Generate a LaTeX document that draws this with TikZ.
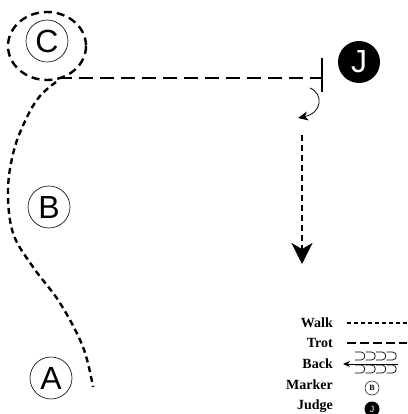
\documentclass[tikz,border=0pt]{standalone}
\usepackage{fontspec}
\setsansfont{Liberation Sans}
\setmainfont{Liberation Serif}
\usetikzlibrary{arrows.meta}
\begin{document}
\begin{tikzpicture}[x=1pt,y=-1pt,
  marker/.style={circle,draw,line width=0.6pt,minimum size=42pt,inner sep=0pt,font=\fontsize{32}{32}\selectfont\sffamily},
  judge/.style={circle,fill=black,text=white,minimum size=42pt,inner sep=0pt,font=\fontsize{32}{32}\selectfont\sffamily},
  walk/.style={line width=2.4pt,dash pattern=on 6pt off 4pt},
  trot/.style={line width=2.4pt,dash pattern=on 14pt off 7pt},
  legtext/.style={anchor=east,font=\fontsize{14}{14}\selectfont\bfseries\rmfamily,inner sep=0pt},
  legwalk/.style={line width=1.3pt,dash pattern=on 4pt off 3pt},
  legtrot/.style={line width=1.3pt,dash pattern=on 9pt off 4pt},
  loop/.style={line width=0.7pt},
]
\useasboundingbox (0,0) rectangle (407,414);

% markers
\node[marker] (C) at (47,41) {C};
\node[marker] (B) at (49,207) {B};
\node[marker] (A) at (51,378) {A};
\node[judge] (J) at (359,62) {J};

% circle around C
\draw[line width=2.4pt,dash pattern=on 8pt off 5pt] (47,46) ellipse [x radius=39,y radius=34];

% trot line to the halt bar
\coordinate (trotstart) at (58,78);
\coordinate (bar) at (322,78);
\coordinate (bartop) at (322,58);
\coordinate (barbot) at (322,92);
\draw[trot] (trotstart) -- (bar);
\draw[line width=1.5pt] (bartop) -- (barbot);

% turn arrow
\coordinate (turnstart) at (310,88);
\coordinate (turnend) at (298,118);
\draw[line width=0.8pt,-{Stealth[length=10pt,width=9pt,inset=3pt]}] (turnstart) .. controls (324,94) and (322,113) .. (turnend);

% walk down
\coordinate (walkdowntop) at (302,135);
\coordinate (walkdownend) at (302,264);
\draw[walk,-{Stealth[length=21pt,width=21pt,inset=6pt]}] (walkdowntop) -- (walkdownend);

% walk curve from C to A
\draw[walk] plot[smooth,tension=0.6] coordinates {(56,82) (40,96) (27,117) (14,150) (8,190) (13,233) (33,267) (60,303) (83,347) (93,387)};

% legend
\node[legtext] (lwalk) at (333,323) {Walk};
\node[legtext] (ltrot) at (333,343) {Trot};
\node[legtext] (lback) at (333,364) {Back};
\node[legtext] (lmarker) at (333,385) {Marker};
\node[legtext] (ljudge) at (333,406) {Judge};

\coordinate (lw1) at (347,323); \coordinate (lw2) at (407,323);
\draw[legwalk] (lw1) -- (lw2);
\coordinate (lt1) at (347,343); \coordinate (lt2) at (407,343);
\draw[legtrot] (lt1) -- (lt2);

\coordinate (lb1) at (398,364); \coordinate (lb2) at (343,364);
\draw[line width=0.8pt,-{Stealth[length=7pt,width=6pt]}] (lb1) -- (lb2);
\foreach \i in {0,1,2,3}{
  \pgfmathsetmacro{\xa}{355+10.5*\i}
  \pgfmathsetmacro{\xb}{361+10.5*\i}
  \pgfmathsetmacro{\xc}{366+10.5*\i}
  \draw[loop] (\xa,352) -- (\xb,352) .. controls (\xc,352) and (\xc,360) .. (\xb,360) -- (\xa,360);
  \draw[loop] (\xa,365) -- (\xb,365) .. controls (\xc,365) and (\xc,373) .. (\xb,373) -- (\xa,373);
}

\node[circle,draw,line width=0.5pt,minimum size=14pt,inner sep=0pt,font=\fontsize{8}{8}\selectfont\bfseries\rmfamily] (lB) at (372,388) {B};
\node[circle,fill=black,text=white,minimum size=15pt,inner sep=0pt,font=\fontsize{9}{9}\selectfont\sffamily] (lJ) at (372,409) {J};
\end{tikzpicture}
\end{document}
